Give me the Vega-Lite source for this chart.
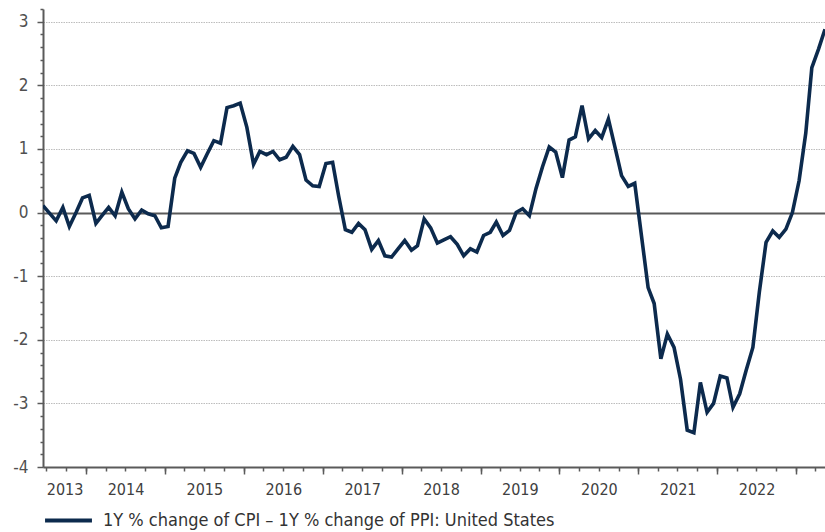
{
  "$schema": "https://vega.github.io/schema/vega-lite/v6.json",
  "width": 782,
  "height": 458,
  "padding": {"left": 0, "top": 0, "right": 0, "bottom": 0},
  "background": "white",
  "config": {"view": {"stroke": null}, "font": "Liberation Sans Narrow, DejaVu Sans Condensed, sans-serif"},
  "data": {
    "format": {"parse": {"date": "utc:'%Y-%m-%d'"}},
    "values": [
      {"date": "2013-06-15", "v": 0.11}, {"date": "2013-07-15", "v": -0.01}, {"date": "2013-08-15", "v": -0.13},
      {"date": "2013-09-15", "v": 0.08}, {"date": "2013-10-15", "v": -0.22}, {"date": "2013-11-15", "v": 0.0},
      {"date": "2013-12-15", "v": 0.23}, {"date": "2014-01-15", "v": 0.27}, {"date": "2014-02-15", "v": -0.17},
      {"date": "2014-03-15", "v": -0.05}, {"date": "2014-04-15", "v": 0.08}, {"date": "2014-05-15", "v": -0.05},
      {"date": "2014-06-15", "v": 0.32}, {"date": "2014-07-15", "v": 0.06}, {"date": "2014-08-15", "v": -0.10},
      {"date": "2014-09-15", "v": 0.04}, {"date": "2014-10-15", "v": -0.02}, {"date": "2014-11-15", "v": -0.05},
      {"date": "2014-12-15", "v": -0.24}, {"date": "2015-01-15", "v": -0.22}, {"date": "2015-02-15", "v": 0.54},
      {"date": "2015-03-15", "v": 0.79}, {"date": "2015-04-15", "v": 0.97}, {"date": "2015-05-15", "v": 0.93},
      {"date": "2015-06-15", "v": 0.71}, {"date": "2015-07-15", "v": 0.92}, {"date": "2015-08-15", "v": 1.13},
      {"date": "2015-09-15", "v": 1.09}, {"date": "2015-10-15", "v": 1.65}, {"date": "2015-11-15", "v": 1.68},
      {"date": "2015-12-15", "v": 1.72}, {"date": "2016-01-15", "v": 1.34}, {"date": "2016-02-15", "v": 0.76},
      {"date": "2016-03-15", "v": 0.96}, {"date": "2016-04-15", "v": 0.91}, {"date": "2016-05-15", "v": 0.96},
      {"date": "2016-06-15", "v": 0.83}, {"date": "2016-07-15", "v": 0.87}, {"date": "2016-08-15", "v": 1.04},
      {"date": "2016-09-15", "v": 0.91}, {"date": "2016-10-15", "v": 0.51}, {"date": "2016-11-15", "v": 0.42},
      {"date": "2016-12-15", "v": 0.41}, {"date": "2017-01-15", "v": 0.77}, {"date": "2017-02-15", "v": 0.79},
      {"date": "2017-03-15", "v": 0.26}, {"date": "2017-04-15", "v": -0.27}, {"date": "2017-05-15", "v": -0.31},
      {"date": "2017-06-15", "v": -0.17}, {"date": "2017-07-15", "v": -0.27}, {"date": "2017-08-15", "v": -0.58},
      {"date": "2017-09-15", "v": -0.44}, {"date": "2017-10-15", "v": -0.68}, {"date": "2017-11-15", "v": -0.70},
      {"date": "2017-12-15", "v": -0.57}, {"date": "2018-01-15", "v": -0.44}, {"date": "2018-02-15", "v": -0.59},
      {"date": "2018-03-15", "v": -0.52}, {"date": "2018-04-15", "v": -0.10}, {"date": "2018-05-15", "v": -0.24},
      {"date": "2018-06-15", "v": -0.48}, {"date": "2018-07-15", "v": -0.43}, {"date": "2018-08-15", "v": -0.38},
      {"date": "2018-09-15", "v": -0.50}, {"date": "2018-10-15", "v": -0.68}, {"date": "2018-11-15", "v": -0.57},
      {"date": "2018-12-15", "v": -0.62}, {"date": "2019-01-15", "v": -0.36}, {"date": "2019-02-15", "v": -0.31},
      {"date": "2019-03-15", "v": -0.15}, {"date": "2019-04-15", "v": -0.36}, {"date": "2019-05-15", "v": -0.28},
      {"date": "2019-06-15", "v": 0.0}, {"date": "2019-07-15", "v": 0.06}, {"date": "2019-08-15", "v": -0.05},
      {"date": "2019-09-15", "v": 0.38}, {"date": "2019-10-15", "v": 0.72}, {"date": "2019-11-15", "v": 1.03},
      {"date": "2019-12-15", "v": 0.95}, {"date": "2020-01-15", "v": 0.55}, {"date": "2020-02-15", "v": 1.14},
      {"date": "2020-03-15", "v": 1.19}, {"date": "2020-04-15", "v": 1.68}, {"date": "2020-05-15", "v": 1.16},
      {"date": "2020-06-15", "v": 1.29}, {"date": "2020-07-15", "v": 1.18}, {"date": "2020-08-15", "v": 1.47},
      {"date": "2020-09-15", "v": 1.02}, {"date": "2020-10-15", "v": 0.58}, {"date": "2020-11-15", "v": 0.41},
      {"date": "2020-12-15", "v": 0.46}, {"date": "2021-01-15", "v": -0.36}, {"date": "2021-02-15", "v": -1.18},
      {"date": "2021-03-15", "v": -1.43}, {"date": "2021-04-15", "v": -2.30}, {"date": "2021-05-15", "v": -1.91},
      {"date": "2021-06-15", "v": -2.12}, {"date": "2021-07-15", "v": -2.62}, {"date": "2021-08-15", "v": -3.42},
      {"date": "2021-09-15", "v": -3.46}, {"date": "2021-10-15", "v": -2.67}, {"date": "2021-11-15", "v": -3.14},
      {"date": "2021-12-15", "v": -3.00}, {"date": "2022-01-15", "v": -2.57}, {"date": "2022-02-15", "v": -2.60},
      {"date": "2022-03-15", "v": -3.06}, {"date": "2022-04-15", "v": -2.85}, {"date": "2022-05-15", "v": -2.48},
      {"date": "2022-06-15", "v": -2.12}, {"date": "2022-07-15", "v": -1.25}, {"date": "2022-08-15", "v": -0.47},
      {"date": "2022-09-15", "v": -0.29}, {"date": "2022-10-15", "v": -0.39}, {"date": "2022-11-15", "v": -0.26},
      {"date": "2022-12-15", "v": 0.0}, {"date": "2023-01-15", "v": 0.50}, {"date": "2023-02-15", "v": 1.25},
      {"date": "2023-03-15", "v": 2.28}, {"date": "2023-04-15", "v": 2.57}, {"date": "2023-05-15", "v": 2.88}
    ]
  },
  "resolve": {"axis": {"x": "independent"}},
  "layer": [
    {
      "mark": {"type": "line", "strokeWidth": 3.6, "strokeJoin": "miter", "clip": true},
      "encoding": {
        "x": {
          "field": "date", "type": "temporal",
          "scale": {"type": "utc", "domain": [{"year": 2013, "month": 6, "date": 15, "utc": true}, {"year": 2023, "month": 5, "date": 15, "utc": true}]},
          "axis": {
            "orient": "bottom", "title": null, "grid": false, "labels": false,
            "tickSize": 4, "tickWidth": 1.5, "tickColor": "#5a5a5a",
            "domain": true, "domainColor": "#5a5a5a", "domainWidth": 2,
            "values": [
              {"year": 2013, "month": 7, "date": 1, "utc": true}, {"year": 2013, "month": 10, "date": 1, "utc": true},
              {"year": 2014, "month": 1, "date": 1, "utc": true}, {"year": 2014, "month": 4, "date": 1, "utc": true}, {"year": 2014, "month": 7, "date": 1, "utc": true}, {"year": 2014, "month": 10, "date": 1, "utc": true},
              {"year": 2015, "month": 1, "date": 1, "utc": true}, {"year": 2015, "month": 4, "date": 1, "utc": true}, {"year": 2015, "month": 7, "date": 1, "utc": true}, {"year": 2015, "month": 10, "date": 1, "utc": true},
              {"year": 2016, "month": 1, "date": 1, "utc": true}, {"year": 2016, "month": 4, "date": 1, "utc": true}, {"year": 2016, "month": 7, "date": 1, "utc": true}, {"year": 2016, "month": 10, "date": 1, "utc": true},
              {"year": 2017, "month": 1, "date": 1, "utc": true}, {"year": 2017, "month": 4, "date": 1, "utc": true}, {"year": 2017, "month": 7, "date": 1, "utc": true}, {"year": 2017, "month": 10, "date": 1, "utc": true},
              {"year": 2018, "month": 1, "date": 1, "utc": true}, {"year": 2018, "month": 4, "date": 1, "utc": true}, {"year": 2018, "month": 7, "date": 1, "utc": true}, {"year": 2018, "month": 10, "date": 1, "utc": true},
              {"year": 2019, "month": 1, "date": 1, "utc": true}, {"year": 2019, "month": 4, "date": 1, "utc": true}, {"year": 2019, "month": 7, "date": 1, "utc": true}, {"year": 2019, "month": 10, "date": 1, "utc": true},
              {"year": 2020, "month": 1, "date": 1, "utc": true}, {"year": 2020, "month": 4, "date": 1, "utc": true}, {"year": 2020, "month": 7, "date": 1, "utc": true}, {"year": 2020, "month": 10, "date": 1, "utc": true},
              {"year": 2021, "month": 1, "date": 1, "utc": true}, {"year": 2021, "month": 4, "date": 1, "utc": true}, {"year": 2021, "month": 7, "date": 1, "utc": true}, {"year": 2021, "month": 10, "date": 1, "utc": true},
              {"year": 2022, "month": 1, "date": 1, "utc": true}, {"year": 2022, "month": 4, "date": 1, "utc": true}, {"year": 2022, "month": 7, "date": 1, "utc": true}, {"year": 2022, "month": 10, "date": 1, "utc": true},
              {"year": 2023, "month": 1, "date": 1, "utc": true}, {"year": 2023, "month": 4, "date": 1, "utc": true}
            ]
          }
        },
        "y": {
          "field": "v", "type": "quantitative",
          "scale": {"domain": [-4, 3.2], "nice": false, "zero": false},
          "axis": {
            "title": null,
            "values": [-4, -3.8, -3.6, -3.4, -3.2, -3, -2.8, -2.6, -2.4, -2.2, -2, -1.8, -1.6, -1.4, -1.2, -1, -0.8, -0.6, -0.4, -0.2, 0, 0.2, 0.4, 0.6, 0.8, 1, 1.2, 1.4, 1.6, 1.8, 2, 2.2, 2.4, 2.6, 2.8, 3, 3.2],
            "grid": true,
            "gridColor": {"condition": {"test": "abs(datum.value) < 0.01", "value": "#5a5a5a"}, "value": "#bdbdbd"},
            "gridWidth": {"condition": {"test": "abs(datum.value) < 0.01", "value": 1.8}, "value": 1},
            "gridDash": {"condition": {"test": "abs(datum.value) < 0.01", "value": []}, "value": [1.5, 1]},
            "gridOpacity": {"condition": {"test": "abs(datum.value - round(datum.value)) < 0.01", "value": 1}, "value": 0},
            "tickSize": {"condition": {"test": "abs(datum.value - round(datum.value)) < 0.01", "value": 6}, "value": 3},
            "tickColor": "#5a5a5a", "tickWidth": 1.5,
            "domainColor": "#5a5a5a", "domainWidth": 2,
            "labelExpr": "abs(datum.value - round(datum.value)) < 0.01 ? '' + round(datum.value) : ''",
            "labelFontSize": 17, "labelColor": "#505050", "labelPadding": 9,
            "labelOverlap": false, "labelFlush": false,
            "minExtent": 43, "maxExtent": 43
          }
        },
        "color": {
          "datum": "1Y % change of CPI – 1Y % change of PPI: United States",
          "type": "nominal",
          "scale": {"range": ["#0c2a4d"]},
          "legend": {
            "orient": "bottom", "title": null, "symbolType": "stroke",
            "symbolStrokeWidth": 4, "symbolSize": 2200, "labelFontSize": 18,
            "labelColor": "#333333", "labelOffset": 9, "labelLimit": 0, "offset": -2
          }
        }
      }
    },
    {
      "mark": {"type": "point", "opacity": 0},
      "encoding": {
        "x": {
          "field": "date", "type": "temporal",
          "scale": {"type": "utc", "domain": [{"year": 2013, "month": 6, "date": 15, "utc": true}, {"year": 2023, "month": 5, "date": 15, "utc": true}]},
          "axis": {
            "orient": "bottom", "title": null, "grid": false, "labels": false, "domain": false,
            "tickSize": 7, "tickWidth": 1.5, "tickColor": "#5a5a5a",
            "values": [
              {"year": 2014, "month": 1, "date": 1, "utc": true}, {"year": 2015, "month": 1, "date": 1, "utc": true},
              {"year": 2016, "month": 1, "date": 1, "utc": true}, {"year": 2017, "month": 1, "date": 1, "utc": true},
              {"year": 2018, "month": 1, "date": 1, "utc": true}, {"year": 2019, "month": 1, "date": 1, "utc": true},
              {"year": 2020, "month": 1, "date": 1, "utc": true}, {"year": 2021, "month": 1, "date": 1, "utc": true},
              {"year": 2022, "month": 1, "date": 1, "utc": true}, {"year": 2023, "month": 1, "date": 1, "utc": true}
            ]
          }
        }
      }
    },
    {
      "mark": {"type": "point", "opacity": 0},
      "encoding": {
        "x": {
          "field": "date", "type": "temporal",
          "scale": {"type": "utc", "domain": [{"year": 2013, "month": 6, "date": 15, "utc": true}, {"year": 2023, "month": 5, "date": 15, "utc": true}]},
          "axis": {
            "orient": "bottom", "title": null, "grid": false, "domain": false, "ticks": false, "tickSize": 0,
            "format": "%Y", "labelPadding": 14, "labelFontSize": 16, "labelColor": "#404040",
            "labelOverlap": false, "labelFlush": false,
            "values": [
              {"year": 2013, "month": 9, "date": 23, "utc": true}, {"year": 2014, "month": 7, "date": 2, "utc": true},
              {"year": 2015, "month": 7, "date": 2, "utc": true}, {"year": 2016, "month": 7, "date": 2, "utc": true},
              {"year": 2017, "month": 7, "date": 2, "utc": true}, {"year": 2018, "month": 7, "date": 2, "utc": true},
              {"year": 2019, "month": 7, "date": 2, "utc": true}, {"year": 2020, "month": 7, "date": 2, "utc": true},
              {"year": 2021, "month": 7, "date": 2, "utc": true}, {"year": 2022, "month": 7, "date": 2, "utc": true}
            ]
          }
        }
      }
    }
  ]
}
